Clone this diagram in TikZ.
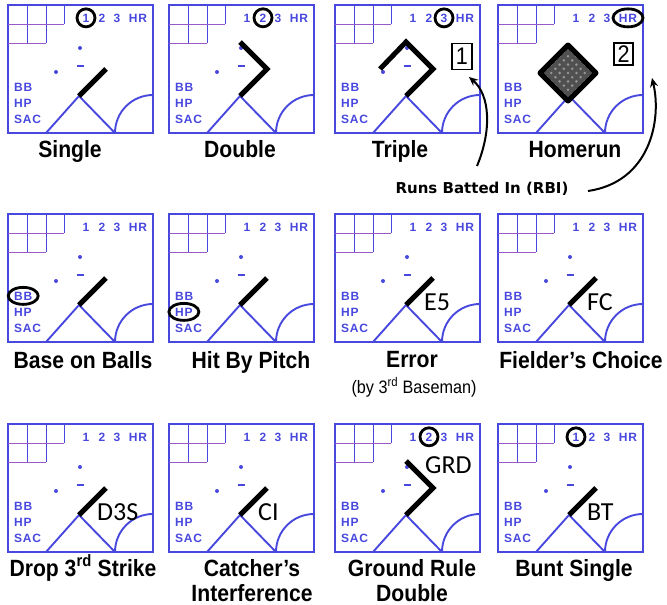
\documentclass[tikz,border=0pt]{standalone}
\usepackage{fontspec}
\setmainfont{Liberation Sans}
\newfontfamily\lblfont[FakeStretch=0.9]{Liberation Sans}
\newfontfamily\bluefont[LetterSpace=6]{Liberation Sans}
\newfontfamily\ovfont{Carlito}
\newfontfamily\rbifont{DejaVu Sans}
\usetikzlibrary{arrows.meta}

\definecolor{fieldblue}{RGB}{72,72,222}
\definecolor{gridpink}{RGB}{150,90,200}
\definecolor{hrfill}{RGB}{80,80,80}
\definecolor{hrdot}{RGB}{150,150,150}

\tikzset{
  cellbox/.style={draw=fieldblue, line width=1.5pt},
  gridv/.style={draw=fieldblue, line width=1pt},
  gridh/.style={draw=gridpink, line width=1pt},
  fieldline/.style={draw=fieldblue, line width=1.9pt},
  bluetxt/.style={text=fieldblue, inner sep=0pt, anchor=base, font=\bluefont\bfseries\fontsize{12}{13}\selectfont},
  hitline/.style={draw=black, line width=5pt, line join=miter, line cap=butt},
  ring/.style={draw=black, line width=2.8pt},
  overtxt/.style={inner sep=0pt, anchor=base west, font=\ovfont\fontsize{26}{28}\selectfont},
  rbibox/.style={draw=black, line width=1.5pt, inner sep=0pt, font=\lblfont\fontsize{24}{26}\selectfont},
  celllabel/.style={inner sep=0pt, anchor=base, align=center, font=\lblfont\bfseries\fontsize{23.5}{25}\selectfont},
  sublabel/.style={inner sep=0pt, anchor=base, font=\lblfont\fontsize{18}{20}\selectfont},
  rbiarrow/.style={draw=black, line width=2pt, -{Stealth[length=9pt,width=8pt]}},
}

\newcommand\scorecell[1]{%
  \draw[cellbox] (0,0) rectangle (145,128);
  \draw[gridv] (19,0) -- (19,38) (38,0) -- (38,38) (56,0) -- (56,19);
  \draw[gridh] (0,19) -- (56,19) (0,38) -- (38,38);
  \node[bluetxt] (#1-n1) at (78,17) {1};
  \node[bluetxt] (#1-n2) at (94,17) {2};
  \node[bluetxt] (#1-n3) at (109,17) {3};
  \node[bluetxt] (#1-hr) at (130,17) {HR};
  \node[bluetxt, anchor=base west] (#1-bb) at (6,86) {BB};
  \node[bluetxt, anchor=base west] (#1-hp) at (6,102) {HP};
  \node[bluetxt, anchor=base west] (#1-sac) at (6,118) {SAC};
  \fill[fieldblue] (72,43) circle[radius=2pt] (48,67) circle[radius=2pt];
  \draw[fieldblue, line width=1.8pt] (68.5,61) -- (75.5,61);
  \coordinate (#1-home) at (71,91);
  \coordinate (#1-first) at (98,64);
  \coordinate (#1-second) at (71,37);
  \coordinate (#1-third) at (45,64);
  \coordinate (#1-bl) at (38,128);
  \coordinate (#1-br) at (107,128);
  \draw[fieldline] (#1-bl) -- (#1-home) -- (#1-br);
  \draw[fieldline] (#1-br) arc[start angle=180, end angle=90, radius=38pt];
}

\begin{document}
\begin{tikzpicture}[x=1pt, y=-1pt]
\useasboundingbox (0,0) rectangle (667,605);

% Row 1
\begin{scope}[shift={(8,5)}]
  \scorecell{c1}
  \draw[ring] (c1-n1.center) circle[radius=9pt];
  \draw[hitline] (c1-home) -- (c1-first);
\end{scope}
\begin{scope}[shift={(169,5)}]
  \scorecell{c2}
  \draw[ring] (c2-n2.center) circle[radius=9pt];
  \draw[hitline] (c2-home) -- (c2-first) -- (c2-second);
\end{scope}
\begin{scope}[shift={(335,5)}]
  \scorecell{c3}
  \draw[ring] (c3-n3.center) circle[radius=9pt];
  \draw[hitline] (c3-home) -- (c3-first) -- (c3-second) -- (c3-third);
  \node[rbibox, minimum width=20pt, minimum height=26pt] (c3-rbibox) at (127,51.5) {1};
\end{scope}
\begin{scope}[shift={(498,5)}]
  \scorecell{c4}
  \draw[ring] (c4-hr.center) ellipse[x radius=15pt, y radius=9pt];
  \coordinate (c4-dh) at (70,96);
  \coordinate (c4-d1) at (98,68);
  \coordinate (c4-d2) at (70,40);
  \coordinate (c4-d3) at (42,68);
  \begin{scope}
    \clip (c4-dh) -- (c4-d1) -- (c4-d2) -- (c4-d3) -- cycle;
    \fill[hrfill] (38,36) rectangle (102,100);
    \foreach \i in {-4,...,4} {
      \foreach \j in {-4,...,4} {
        \fill[hrdot] ({70+(\i-\j)*4.2},{68+(\i+\j)*4.2}) circle[radius=1.4pt];
      }
    }
  \end{scope}
  \draw[black, line width=5pt, line join=round] (c4-dh) -- (c4-d1) -- (c4-d2) -- (c4-d3) -- cycle;
  \node[rbibox, minimum width=19pt, minimum height=22pt] (c4-rbibox) at (125.5,49) {2};
\end{scope}

% Row 2
\begin{scope}[shift={(8,214)}]
  \scorecell{c5}
  \draw[ring] (c5-bb.center) ellipse[x radius=15pt, y radius=8.5pt];
  \draw[hitline] (c5-home) -- (c5-first);
\end{scope}
\begin{scope}[shift={(169,214)}]
  \scorecell{c6}
  \draw[ring] (c6-hp.center) ellipse[x radius=15pt, y radius=8.5pt];
  \draw[hitline] (c6-home) -- (c6-first);
\end{scope}
\begin{scope}[shift={(335,214)}]
  \scorecell{c7}
  \draw[hitline] (c7-home) -- (c7-first);
  \node[overtxt] (c7-txt) at (89,96.5) {E5};
\end{scope}
\begin{scope}[shift={(498,214)}]
  \scorecell{c8}
  \draw[hitline] (c8-home) -- (c8-first);
  \node[overtxt] (c8-txt) at (89,96.5) {FC};
\end{scope}

% Row 3
\begin{scope}[shift={(8,424)}]
  \scorecell{c9}
  \draw[hitline] (c9-home) -- (c9-first);
  \node[overtxt] (c9-txt) at (89,96.5) {D3S};
\end{scope}
\begin{scope}[shift={(169,424)}]
  \scorecell{c10}
  \draw[hitline] (c10-home) -- (c10-first);
  \node[overtxt] (c10-txt) at (89,96.5) {CI};
\end{scope}
\begin{scope}[shift={(335,424)}]
  \scorecell{c11}
  \draw[ring] (c11-n2.center) circle[radius=9pt];
  \draw[hitline] (c11-home) -- (c11-first) -- (c11-second);
  \node[overtxt] (c11-txt) at (90,49.5) {GRD};
\end{scope}
\begin{scope}[shift={(498,424)}]
  \scorecell{c12}
  \draw[ring] (c12-n1.center) circle[radius=9pt];
  \draw[hitline] (c12-home) -- (c12-first);
  \node[overtxt] (c12-txt) at (89,96.5) {BT};
\end{scope}

% Labels
\node[celllabel] (l1) at (70,157) {Single};
\node[celllabel] (l2) at (240,157) {Double};
\node[celllabel] (l3) at (400,157) {Triple};
\node[celllabel] (l4) at (575,157) {Homerun};
\node[celllabel] (l5) at (83,368) {Base on Balls};
\node[celllabel] (l6) at (251,368) {Hit By Pitch};
\node[celllabel] (l7) at (412,367) {Error};
\node[sublabel] (l7b) at (414,393) {(by 3\textsuperscript{rd} Baseman)};
\node[celllabel] (l8) at (581,368) {Fielder’s Choice};
\node[celllabel] (l9) at (83,576) {Drop 3\textsuperscript{rd} Strike};
\node[celllabel] (l10) at (252,601) {Catcher’s\\Interference};
\node[celllabel] (l11) at (412,601) {Ground Rule\\Double};
\node[celllabel] (l12) at (574,576) {Bunt Single};

% RBI
\node[inner sep=0pt, anchor=base, font=\rbifont\bfseries\fontsize{15}{17}\selectfont] (rbi) at (482,193) {Runs Batted In (RBI)};
\coordinate (a1tail) at (477,166);
\coordinate (a1tip) at (469,77);
\coordinate (a2tail) at (588,191);
\coordinate (a2tip) at (652,78);
\draw[rbiarrow] (a1tail) .. controls (492,130) and (490,95) .. (a1tip);
\draw[rbiarrow] (a2tail) .. controls (650,182) and (662,120) .. (a2tip);
\end{tikzpicture}
\end{document}
